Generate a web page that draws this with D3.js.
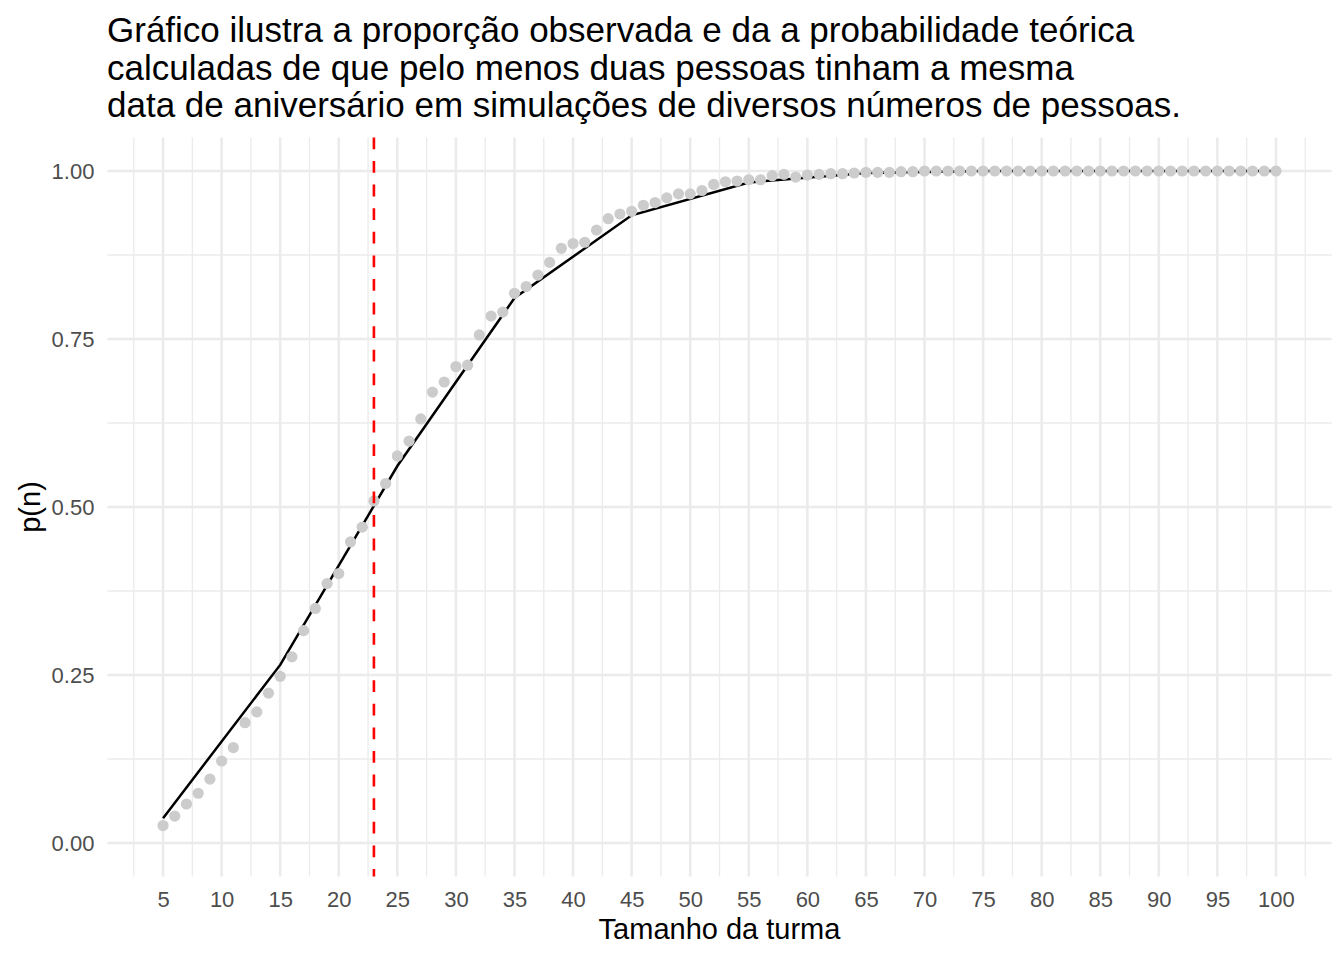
<!DOCTYPE html>
<html>
<head>
<meta charset="utf-8">
<script src="https://cdn.jsdelivr.net/npm/d3@7"></script>
<style>
  body { margin: 0; background: #fff; }
  text { font-family: "Liberation Sans", Arial, sans-serif; }
</style>
</head>
<body>
<svg></svg>
<script>
let width = 1344;
let height = 960;

// tamanho da turma (n) e proporção observada nas simulações
let turmas = [5, 6, 7, 8, 9, 10, 11, 12, 13, 14, 15, 16, 17, 18, 19, 20, 21, 22, 23, 24,
  25, 26, 27, 28, 29, 30, 31, 32, 33, 34, 35, 36, 37, 38, 39, 40, 41, 42, 43, 44,
  45, 46, 47, 48, 49, 50, 51, 52, 53, 54, 55, 56, 57, 58, 59, 60, 61, 62, 63, 64,
  65, 66, 67, 68, 69, 70, 71, 72, 73, 74, 75, 76, 77, 78, 79, 80, 81, 82, 83, 84,
  85, 86, 87, 88, 89, 90, 91, 92, 93, 94, 95, 96, 97, 98, 99, 100];
let observada = [0.026, 0.040, 0.058, 0.074, 0.095, 0.122, 0.142, 0.179, 0.195, 0.223,
  0.248, 0.277, 0.316, 0.349, 0.386, 0.401, 0.448, 0.470, 0.509, 0.535,
  0.576, 0.598, 0.631, 0.671, 0.686, 0.709, 0.711, 0.756, 0.784, 0.790,
  0.818, 0.828, 0.845, 0.864, 0.885, 0.892, 0.894, 0.912, 0.929, 0.936,
  0.940, 0.949, 0.953, 0.960, 0.966, 0.966, 0.971, 0.980, 0.984, 0.985,
  0.987, 0.987, 0.993, 0.995, 0.991, 0.994, 0.995, 0.996, 0.996, 0.997,
  0.998, 0.998, 0.998, 0.999, 0.999, 1, 1, 1, 1, 1,
  1, 1, 1, 1, 1, 1, 1, 1, 1, 1,
  1, 1, 1, 1, 1, 1, 1, 1, 1, 1,
  1, 1, 1, 1, 1, 1];

// probabilidade teórica (linha)
let turmasTeorica = [5, 15, 25, 35, 45, 55, 65, 75, 85, 95, 100];
let teorica = [0.037, 0.265, 0.561, 0.811, 0.934, 0.983, 0.997, 1, 1, 1, 1];

let xTicks = [5, 10, 15, 20, 25, 30, 35, 40, 45, 50, 55, 60, 65, 70, 75, 80, 85, 90, 95, 100];
let xMinor = [2.5, 7.5, 12.5, 17.5, 22.5, 27.5, 32.5, 37.5, 42.5, 47.5, 52.5, 57.5, 62.5,
  67.5, 72.5, 77.5, 82.5, 87.5, 92.5, 97.5, 102.5];
let yTicks = [0, 0.25, 0.5, 0.75, 1];
let yMinor = [0.125, 0.375, 0.625, 0.875];
let corte = 23;

let titulo = [
  'Gráfico ilustra a proporção observada e da a probabilidade teórica',
  'calculadas de que pelo menos duas pessoas tinham a mesma',
  'data de aniversário em simulações de diversos números de pessoas.'
];

let panel = { left: 107.4, right: 1331.6, top: 137.4, bottom: 876.6 };

let xScale = d3.scaleLinear()
                .domain([0.25, 104.75])
                .range([panel.left, panel.right]);

let yScale = d3.scaleLinear()
                .domain([-0.05, 1.05])
                .range([panel.bottom, panel.top]);

let svg = d3.select('svg')
              .attr('width', width)
              .attr('height', height);

// grade
svg.append('g')
  .selectAll('line')
  .data(yMinor)
  .enter()
  .append('line')
    .attr('x1', panel.left).attr('x2', panel.right)
    .attr('y1', d => yScale(d)).attr('y2', d => yScale(d))
    .attr('stroke', '#ebebeb')
    .attr('stroke-width', 1.3);

svg.append('g')
  .selectAll('line')
  .data(xMinor)
  .enter()
  .append('line')
    .attr('y1', panel.top).attr('y2', panel.bottom)
    .attr('x1', d => xScale(d)).attr('x2', d => xScale(d))
    .attr('stroke', '#ebebeb')
    .attr('stroke-width', 1.3);

svg.append('g')
  .selectAll('line')
  .data(yTicks)
  .enter()
  .append('line')
    .attr('x1', panel.left).attr('x2', panel.right)
    .attr('y1', d => yScale(d)).attr('y2', d => yScale(d))
    .attr('stroke', '#ebebeb')
    .attr('stroke-width', 2.6);

svg.append('g')
  .selectAll('line')
  .data(xTicks)
  .enter()
  .append('line')
    .attr('y1', panel.top).attr('y2', panel.bottom)
    .attr('x1', d => xScale(d)).attr('x2', d => xScale(d))
    .attr('stroke', '#ebebeb')
    .attr('stroke-width', 2.6);

// eixos sem linha nem marcas
let xAxis = svg.append('g')
    .attr('transform', `translate(0, ${panel.bottom})`)
  .call(d3.axisBottom(xScale).tickValues(xTicks).tickSize(0).tickPadding(12));

let yAxis = svg.append('g')
    .attr('transform', `translate(${panel.left}, 0)`)
  .call(d3.axisLeft(yScale).tickValues(yTicks).tickFormat(d3.format('.2f')).tickSize(0).tickPadding(13));

[xAxis, yAxis].forEach(a => {
  a.select('.domain').remove();
  a.selectAll('text')
    .style('font-family', '"Liberation Sans", Arial, sans-serif')
    .style('font-size', '22px')
    .attr('fill', '#4d4d4d');
});
xAxis.selectAll('text').attr('dy', null).attr('y', 30);

// linha teórica
let linha = d3.line()
                .x(d => xScale(d))
                .y((d, i) => yScale(teorica[i]));

svg.append('path')
  .datum(turmasTeorica)
  .attr('d', linha)
  .attr('fill', 'none')
  .attr('stroke', '#000')
  .attr('stroke-width', 2.5);

// pontos observados
svg.append('g')
  .selectAll('circle')
  .data(turmas)
  .enter()
  .append('circle')
    .attr('cx', d => xScale(d))
    .attr('cy', (d, i) => yScale(observada[i]))
    .attr('r', 5.6)
    .attr('fill', '#cccccc');

// linha de corte n = 23
svg.append('line')
  .attr('x1', xScale(corte)).attr('x2', xScale(corte))
  .attr('y1', panel.top).attr('y2', panel.bottom)
  .attr('stroke', '#ff0000')
  .attr('stroke-width', 2.6)
  .attr('stroke-dasharray', '11.8 11.8');

// títulos
svg.append('text')
  .attr('x', (panel.left + panel.right) / 2)
  .attr('y', 939)
  .style('text-anchor', 'middle')
  .style('font-size', '29px')
  .text('Tamanho da turma');

svg.append('text')
  .attr('transform', 'rotate(-90)')
  .attr('x', -(panel.top + panel.bottom) / 2)
  .attr('y', 40)
  .style('text-anchor', 'middle')
  .style('font-size', '29px')
  .text('p(n)');

svg.append('g')
  .selectAll('text')
  .data(titulo)
  .enter()
  .append('text')
    .attr('x', 107)
    .attr('y', (d, i) => 42 + i * 37.5)
    .style('font-size', '35px')
    .text(d => d);
</script>
</body>
</html>
